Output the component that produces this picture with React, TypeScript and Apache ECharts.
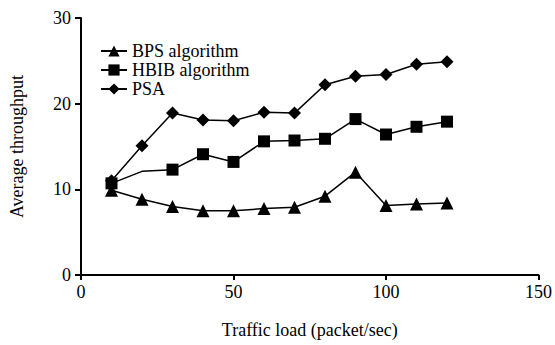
import React, { useEffect, useRef } from "react";
import * as echarts from "echarts";

const trafficLoad = [10, 20, 30, 40, 50, 60, 70, 80, 90, 100, 110, 120];
const bpsValues = [9.9, 8.85, 8.0, 7.5, 7.5, 7.75, 7.9, 9.2, 12.0, 8.1, 8.3, 8.4];
const hbibValues = [10.7, 12.1, 12.3, 14.1, 13.2, 15.6, 15.7, 15.9, 18.2, 16.4, 17.3, 17.9];
const psaValues = [11.0, 15.1, 18.9, 18.1, 18.0, 19.0, 18.9, 22.2, 23.2, 23.4, 24.6, 24.9];
const xTicks = [0, 50, 100, 150];
const yTicks = [0, 10, 20, 30];

const FONT = "'Liberation Serif', 'DejaVu Serif', serif";

export default function App() {
  const ref = useRef<HTMLDivElement>(null);
  useEffect(() => {
    if (!ref.current) return;
    const chart = echarts.init(ref.current, null, { renderer: "svg" });
    const mk = (vals: number[], hideIdx: number[] = []) =>
      trafficLoad.map((x, i) =>
        hideIdx.includes(i) ? { value: [x, vals[i]], symbol: "none" } : [x, vals[i]]
      );
    const lineStyle = { color: "#000", width: 1.5 };
    chart.setOption({
      animation: false,
      backgroundColor: "#fff",
      grid: { left: 78, right: 13, top: 18, bottom: 70 },
      legend: {
        orient: "vertical",
        left: 95,
        top: 37,
        itemWidth: 26,
        itemHeight: 14,
        itemGap: 1,
        textStyle: { fontFamily: FONT, fontSize: 18, lineHeight: 18, color: "#000" },
        data: ["BPS algorithm", "HBIB algorithm", "PSA"],
      },
      xAxis: {
        type: "value",
        min: xTicks[0],
        max: xTicks[xTicks.length - 1],
        interval: 50,
        name: "Traffic load (packet/sec)",
        nameLocation: "middle",
        nameGap: 46,
        nameTextStyle: { fontFamily: FONT, fontSize: 18, color: "#000" },
        axisLine: { lineStyle: { color: "#000", width: 2 } },
        axisTick: { show: true, length: 5, lineStyle: { color: "#000", width: 2 } },
        axisLabel: { fontFamily: FONT, fontSize: 18, color: "#000", margin: 8 },
        splitLine: { show: false },
      },
      yAxis: {
        type: "value",
        min: yTicks[0],
        max: yTicks[yTicks.length - 1],
        interval: 10,
        name: "Average throughput",
        nameLocation: "middle",
        nameGap: 55,
        nameTextStyle: { fontFamily: FONT, fontSize: 18, color: "#000" },
        axisLine: { show: true, lineStyle: { color: "#000", width: 2 } },
        axisTick: { show: true, length: 6, lineStyle: { color: "#000", width: 2 } },
        axisLabel: { fontFamily: FONT, fontSize: 18, color: "#000", margin: 10 },
        splitLine: { show: false },
      },
      series: [
        {
          name: "BPS algorithm",
          type: "line",
          data: mk(bpsValues),
          symbol: "triangle",
          symbolSize: 13,
          lineStyle,
          itemStyle: { color: "#000" },
        },
        {
          name: "HBIB algorithm",
          type: "line",
          data: mk(hbibValues, [1]),
          symbol: "rect",
          symbolSize: 12,
          lineStyle,
          itemStyle: { color: "#000" },
        },
        {
          name: "PSA",
          type: "line",
          data: mk(psaValues),
          symbol: "diamond",
          symbolSize: 13,
          lineStyle,
          itemStyle: { color: "#000" },
        },
      ],
    });
    return () => chart.dispose();
  }, []);
  return <div ref={ref} style={{ width: 555, height: 345, position: "absolute", left: 0, top: 0 }} />;
}
